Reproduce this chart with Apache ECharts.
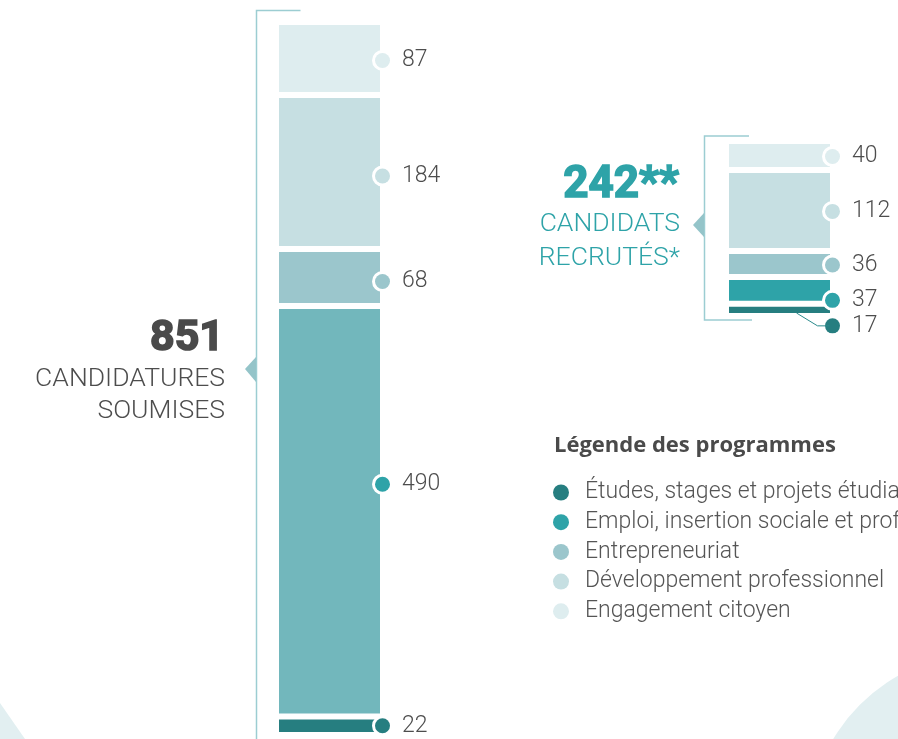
<!DOCTYPE html>
<html>
<head>
<meta charset="utf-8">
<script src="https://cdn.jsdelivr.net/npm/echarts@6/dist/echarts.min.js"></script>
<style>
  html, body { margin: 0; padding: 0; background: #fff; }
  #chart { width: 898px; height: 739px; }
</style>
</head>
<body>
<div id="chart"></div>
<script>
// Programme names, bottom of the stack first
const programmes = [
    'Études, stages et projets étudiants',
    'Emploi, insertion sociale et professionnelle',
    'Entrepreneuriat',
    'Développement professionnel',
    'Engagement citoyen'
];
const candidatures = [22, 490, 68, 184, 87];
const recrutes = [17, 37, 36, 112, 40];

// colours
const programmeColors = ['#267e80', '#2ea3a8', '#9bc6cc', '#c6dfe2', '#deedef'];
const leftBarColors = ['#267e80', '#72b7bc', '#9bc6cc', '#c6dfe2', '#deedef'];
const leftLabelShift = [-1, -28, 3, 3, 1];
const rightLabelShift = [0, 9, 0, 0, 0];
const rightLabelShift17 = 15;

const textGray = '#4d4d4d';
const teal = '#2ea3a8';
const bracketColor = '#9ccdd2';
const totalCand = candidatures.reduce((a, b) => a + b, 0);
const totalRecr = recrutes.reduce((a, b) => a + b, 0);

function dotLabel (dotColor, dy) {
    return {
        show: true,
        position: 'right',
        distance: -8,
        offset: [0, dy + 1],
        formatter: '{d|}{v|{c}}',
        rich: {
            d: {
                width: 15, height: 15, borderRadius: 8,
                backgroundColor: dotColor, borderColor: '#fff', borderWidth: 3
            },
            v: {
                fontFamily: 'Roboto', fontWeight: 300, fontSize: 23,
                color: textGray, padding: [0, 0, 0, 12]
            }
        }
    };
}

const series = [];
programmes.forEach((name, i) => {
    series.push({
        type: 'bar', name: name, stack: 'cand',
        xAxisIndex: 0, yAxisIndex: 0, barWidth: 107,
        data: [candidatures[i]],
        itemStyle: { color: leftBarColors[i], borderColor: '#fff', borderWidth: 3 },
        label: dotLabel(programmeColors[i], leftLabelShift[i])
    });
});
programmes.forEach((name, i) => {
    series.push({
        type: 'bar', name: name, stack: 'recr',
        xAxisIndex: 1, yAxisIndex: 1, barWidth: 107,
        data: [recrutes[i]],
        itemStyle: { color: programmeColors[i], borderColor: '#fff', borderWidth: 3 },
        label: dotLabel(programmeColors[i], i === 0 ? rightLabelShift17 : rightLabelShift[i])
    });
});

const chart = echarts.init(document.getElementById('chart'), null, { renderer: 'canvas' });

const capsFont = '300 26.5px Roboto';

chart.setOption({
    animation: false,
    grid: [
        { left: 276, width: 107, top: 22, height: 713 },
        { left: 726, width: 107, top: 141, height: 175 }
    ],
    xAxis: [
        { type: 'category', gridIndex: 0, data: ['c'], show: false },
        { type: 'category', gridIndex: 1, data: ['r'], show: false }
    ],
    yAxis: [
        { type: 'value', gridIndex: 0, min: 0, max: totalCand, show: false },
        { type: 'value', gridIndex: 1, min: 0, max: totalRecr, show: false }
    ],
    legend: {
        orient: 'vertical',
        left: 548,
        top: 476,
        icon: 'circle',
        itemWidth: 16,
        itemHeight: 16,
        itemGap: 6.7,
        selectedMode: false,
        itemStyle: { borderWidth: 0 },
        data: programmes.map((name, i) => ({ name: name, itemStyle: { color: programmeColors[i], borderWidth: 0 } })),
        textStyle: {
            fontFamily: 'Roboto', fontWeight: 300, fontSize: 23,
            color: '#555', padding: [0, 0, 0, 11]
        }
    },
    graphic: [
        // background shapes
        { id: 'bgCircle', type: 'circle', z: -10, shape: { cx: 985, cy: 830, r: 177 }, style: { fill: '#e2eff1' } },
        { id: 'bgCorner', type: 'polygon', z: -10, shape: { points: [[0, 703], [25, 739], [0, 739]] }, style: { fill: '#e2eff1' } },
        // brackets
        { type: 'polyline', shape: { points: [[300.5, 10.5], [256.5, 10.5], [256.5, 739]] },
          style: { stroke: bracketColor, lineWidth: 1.5, fill: null } },
        { type: 'polygon', shape: { points: [[245, 369], [256, 357], [256, 382]] }, style: { fill: '#94c4c9' } },
        { type: 'polyline', shape: { points: [[749, 136], [704.5, 136], [704.5, 320], [752, 320]] },
          style: { stroke: bracketColor, lineWidth: 1.5, fill: null } },
        { type: 'polygon', shape: { points: [[693, 225], [704, 213], [704, 237]] }, style: { fill: '#94c4c9' } },
        // totals
        { type: 'text', x: 224, y: 339, style: { text: String(totalCand), font: 'bold 43px Roboto', fill: '#4a4a4a', stroke: '#4a4a4a', lineWidth: 1.6, align: 'right', verticalAlign: 'middle' } },
        { type: 'text', x: 225, y: 379, style: { text: 'CANDIDATURES', font: capsFont, fill: textGray, align: 'right', verticalAlign: 'middle' } },
        { type: 'text', x: 225, y: 411, style: { text: 'SOUMISES', font: capsFont, fill: textGray, align: 'right', verticalAlign: 'middle' } },
        { type: 'text', x: 679, y: 186, style: { text: totalRecr + '**', font: 'bold 44px Roboto', fill: teal, stroke: teal, lineWidth: 1.6, align: 'right', verticalAlign: 'middle' } },
        { type: 'text', x: 680, y: 224, style: { text: 'CANDIDATS', font: capsFont, fill: teal, align: 'right', verticalAlign: 'middle' } },
        { type: 'text', x: 680, y: 258, style: { text: 'RECRUTÉS*', font: capsFont, fill: teal, align: 'right', verticalAlign: 'middle' } },
        // legend title
        { type: 'text', x: 554, y: 446, style: { text: 'Légende des programmes', font: 'bold 22px "Open Sans"', fill: '#4a4a4a', align: 'left', verticalAlign: 'middle' } }
    ],
    series: series
});

// leader line from the thin bottom bar to its shifted label
const base = chart.convertToPixel({ xAxisIndex: 1, yAxisIndex: 1 }, [0, 0]);
const top17 = chart.convertToPixel({ xAxisIndex: 1, yAxisIndex: 1 }, [0, recrutes[0]]);
const mid17 = (base[1] + top17[1]) / 2;
chart.setOption({
    graphic: [{
        id: 'leader17', type: 'polyline', z: 5,
        shape: { points: [[base[0] + 17, base[1] - 3], [base[0] + 38, mid17 + rightLabelShift17 + 1], [base[0] + 50, mid17 + rightLabelShift17 + 1]] },
        style: { stroke: '#2a8a8c', lineWidth: 1, fill: null }
    }]
});
</script>
</body>
</html>
